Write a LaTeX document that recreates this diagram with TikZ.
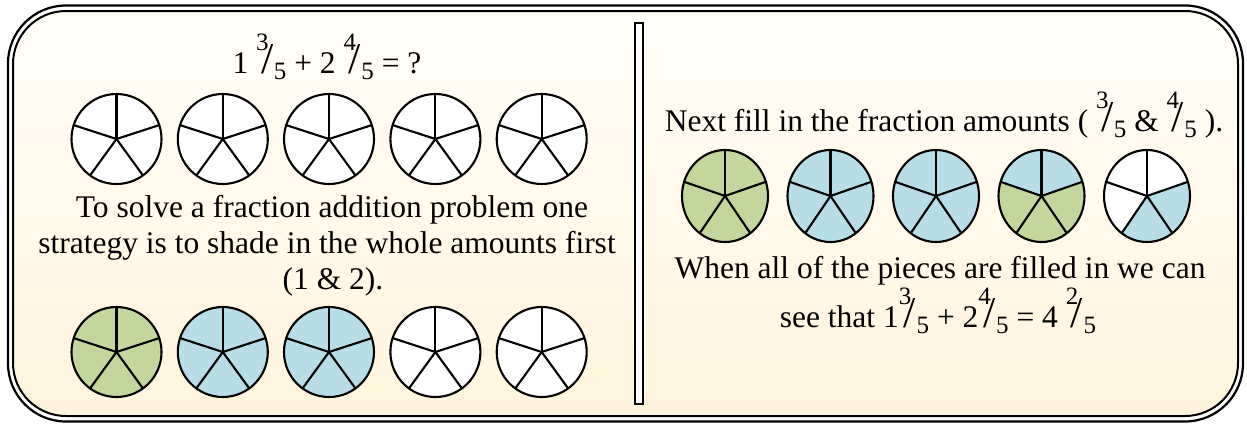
\documentclass[tikz,border=0pt]{standalone}
\usepackage{fontspec}
\setmainfont{Liberation Serif}
\usepackage{graphicx}
\definecolor{pgreen}{HTML}{C3D69B}
\definecolor{pblue}{HTML}{B7DEE8}
\definecolor{bgtop}{HTML}{FFFEF9}
\definecolor{bgbot}{HTML}{FFF5DC}
\newcommand{\myfrac}[2]{\raisebox{0.7em}{\fontsize{25}{25}\selectfont#1}\kern-0.24em\raisebox{-0.02em}{\fontsize{44}{44}\selectfont/}\kern0.02em\raisebox{-0.22em}{\fontsize{25}{25}\selectfont#2}}
\tikzset{
  pieline/.style={line width=2.1pt, draw=black, line join=round},
  txt/.style={font=\fontsize{31.5}{37}\selectfont, anchor=base, inner sep=0pt, text=black},
  frameline/.style={line width=2.2pt, draw=black}
}
\newcommand{\fracpie}[5]{%
  \begin{scope}[shift={(#1,#2)}]
    \foreach \pc [count=\pk from 0] in {#5} {%
      \pgfmathsetmacro\pa{18+72*\pk}%
      \fill[\pc] (0,0) -- (\pa:#3pt and #4pt) arc[start angle=\pa, delta angle=72, x radius=#3pt, y radius=#4pt] -- cycle;}
    \foreach \pk in {0,...,4} {\draw[pieline] (0,0) -- ({18+72*\pk}:#3pt and #4pt);}
    \draw[pieline] (0,0) ellipse[x radius=#3pt, y radius=#4pt];
  \end{scope}}
\begin{document}
\begin{tikzpicture}[x=1pt,y=-1pt]
\useasboundingbox (0,0) rectangle (1247,426);
\fill[white] (0,0) rectangle (1247,426);
% frame
\draw[frameline, rounded corners=58pt] (8,5.5) rectangle (1243,421.5);
\shade[top color=bgtop, bottom color=bgbot, rounded corners=53pt] (13,11) rectangle (1238,416);
\draw[line width=2pt, rounded corners=53pt] (13,11) rectangle (1238,416);
% divider
\draw[line width=1.3pt, fill=white] (635,23) rectangle (643,404);
% left texts
\node[txt] (eq) at (327,73) {1 \myfrac{3}{5} + 2 \myfrac{4}{5} = ?};
\node[txt] (l1) at (332,217) {To solve a fraction addition problem one};
\node[txt] (l2) at (327,253) {strategy is to shade in the whole amounts first};
\node[txt] (l3) at (333,289) {(1 \& 2).};
% left top pies
\foreach \x in {116.5,222.8,329,435.4,541.7}
  {\fracpie{\x}{139}{45}{45}{white,white,white,white,white}}
% left bottom pies
\fracpie{116.5}{352}{45}{45}{pgreen,pgreen,pgreen,pgreen,pgreen}
\fracpie{222.8}{352}{45}{45}{pblue,pblue,pblue,pblue,pblue}
\fracpie{329}{352}{45}{45}{pblue,pblue,pblue,pblue,pblue}
\fracpie{435.4}{352}{45}{45}{white,white,white,white,white}
\fracpie{541.7}{352}{45}{45}{white,white,white,white,white}
% right texts
\node[txt] (r1) at (944,131) {Next fill in the fraction amounts ( \myfrac{3}{5} \& \myfrac{4}{5} ).};
\node[txt] (r2) at (940,278) {When all of the pieces are filled in we can};
\node[txt] (r3) at (938,327) {see that 1\myfrac{3}{5} + 2\myfrac{4}{5} = 4 \myfrac{2}{5}};
% right pies
\fracpie{725}{196}{43}{46}{pgreen,pgreen,pgreen,pgreen,pgreen}
\fracpie{830.5}{196}{43}{46}{pblue,pblue,pblue,pblue,pblue}
\fracpie{936}{196}{43}{46}{pblue,pblue,pblue,pblue,pblue}
\fracpie{1041.5}{196}{43}{46}{pblue,pblue,pgreen,pgreen,pgreen}
\fracpie{1147}{196}{43}{46}{white,white,white,pblue,pblue}
\end{tikzpicture}
\end{document}
